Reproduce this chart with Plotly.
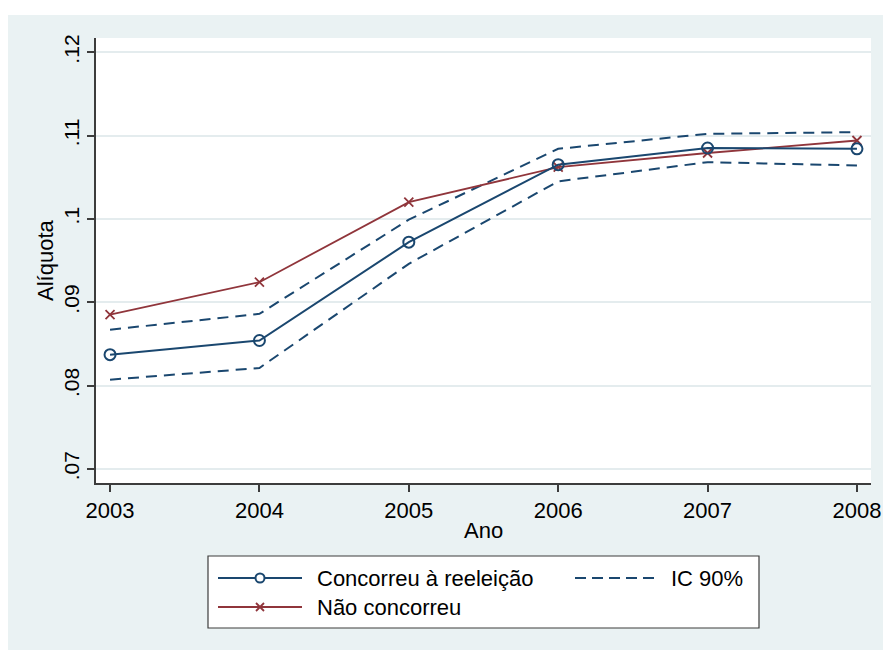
import plotly.graph_objects as go

# Alíquota média por ano: municípios cujo prefeito concorreu à reeleição vs. não concorreu
anos = [2003, 2004, 2005, 2006, 2007, 2008]
concorreu = [0.0837, 0.0854, 0.0972, 0.1065, 0.1085, 0.1084]
nao_concorreu = [0.0885, 0.0924, 0.1020, 0.1062, 0.1079, 0.1094]
ic_superior = [0.0867, 0.0886, 0.0999, 0.1084, 0.1102, 0.1104]
ic_inferior = [0.0807, 0.0821, 0.0946, 0.1045, 0.1068, 0.1064]

y_ticks = [0.07, 0.08, 0.09, 0.10, 0.11, 0.12]
y_tick_labels = [".07", ".08", ".09", ".1", ".11", ".12"]

NAVY = "#1A476F"
MAROON = "#90353B"
BG = "#EAF2F3"
GRID = "#E4ECEE"
AXIS = "#3C3C3C"
FONT = "Arial, Liberation Sans, Helvetica, sans-serif"

W, H = 883, 650
# plot area in pixels
PL, PR, PT, PB = 96, 871, 38, 483


def px(x):
    return (x - PL) / (PR - PL)


def py(y):
    return (PB - y) / (PB - PT)


fig = go.Figure()

fig.add_trace(go.Scatter(
    x=anos, y=ic_superior, mode="lines",
    line=dict(color=NAVY, width=2, dash="11px,7px"),
    showlegend=False, hoverinfo="skip"))
fig.add_trace(go.Scatter(
    x=anos, y=ic_inferior, mode="lines",
    line=dict(color=NAVY, width=2, dash="11px,7px"),
    showlegend=False, hoverinfo="skip"))
fig.add_trace(go.Scatter(
    x=anos, y=nao_concorreu, mode="lines+markers",
    line=dict(color=MAROON, width=1.8),
    marker=dict(symbol="x-thin", size=9, line=dict(color=MAROON, width=1.8)),
    showlegend=False))
fig.add_trace(go.Scatter(
    x=anos, y=concorreu, mode="lines+markers",
    line=dict(color=NAVY, width=2),
    marker=dict(symbol="circle-open", size=11, color=NAVY, line=dict(color=NAVY, width=2)),
    showlegend=False))

shapes = []
# white strips at top and left edge of the page
shapes.append(dict(type="rect", xref="paper", yref="paper", layer="below",
                   x0=px(0), x1=px(W), y0=py(15), y1=py(0),
                   fillcolor="white", line=dict(width=0)))
shapes.append(dict(type="rect", xref="paper", yref="paper", layer="below",
                   x0=px(0), x1=px(8), y0=py(H), y1=py(0),
                   fillcolor="white", line=dict(width=0)))

# legend box
LX0, LX1, LY0, LY1 = 208, 759, 556, 628
shapes.append(dict(type="rect", xref="paper", yref="paper",
                   x0=px(LX0), x1=px(LX1), y0=py(LY1), y1=py(LY0),
                   fillcolor="white", line=dict(color=AXIS, width=1.2)))
ROW1, ROW2 = 578, 607
# Concorreu à reeleição
shapes.append(dict(type="line", xref="paper", yref="paper",
                   x0=px(218), x1=px(302), y0=py(ROW1), y1=py(ROW1),
                   line=dict(color=NAVY, width=2)))
shapes.append(dict(type="circle", xref="paper", yref="paper",
                   xsizemode="pixel", ysizemode="pixel",
                   xanchor=px(260), yanchor=py(ROW1),
                   x0=-4.5, x1=4.5, y0=-4.5, y1=4.5,
                   fillcolor="white", line=dict(color=NAVY, width=2)))
# Não concorreu
shapes.append(dict(type="line", xref="paper", yref="paper",
                   x0=px(218), x1=px(302), y0=py(ROW2), y1=py(ROW2),
                   line=dict(color=MAROON, width=1.8)))
shapes.append(dict(type="path", xref="paper", yref="paper",
                   xsizemode="pixel", ysizemode="pixel",
                   xanchor=px(260), yanchor=py(ROW2),
                   path="M -4,-4 L 4,4 M -4,4 L 4,-4",
                   line=dict(color=MAROON, width=1.8)))
# IC 90%
shapes.append(dict(type="line", xref="paper", yref="paper",
                   x0=px(575), x1=px(659), y0=py(ROW1), y1=py(ROW1),
                   line=dict(color=NAVY, width=2, dash="11px,6px")))

TXT = dict(family=FONT, size=22, color="black")
annotations = [
    dict(text="Concorreu à reeleição", x=px(315), y=py(ROW1), xref="paper", yref="paper",
         xanchor="left", yanchor="middle", showarrow=False, font=TXT),
    dict(text="Não concorreu", x=px(315), y=py(ROW2), xref="paper", yref="paper",
         xanchor="left", yanchor="middle", showarrow=False, font=TXT),
    dict(text="IC 90%", x=px(669), y=py(ROW1), xref="paper", yref="paper",
         xanchor="left", yanchor="middle", showarrow=False, font=TXT),
    dict(text="Ano", x=px(483), y=py(530), xref="paper", yref="paper",
         xanchor="center", yanchor="middle", showarrow=False, font=TXT),
    dict(text="Alíquota", x=px(45), y=py(261), xref="paper", yref="paper",
         xanchor="center", yanchor="middle", showarrow=False, textangle=-90, font=TXT),
]

fig.update_layout(
    width=W, height=H, autosize=False,
    margin=dict(l=PL, r=W - PR, t=PT, b=H - PB, pad=0),
    paper_bgcolor=BG,
    plot_bgcolor="white",
    showlegend=False,
    shapes=shapes,
    annotations=annotations,
    font=dict(family=FONT, size=21, color="black"),
)

fig.update_xaxes(
    automargin=False,
    range=[2002.906, 2008.094],
    tickvals=anos, ticktext=[str(a) for a in anos],
    showgrid=False, zeroline=False,
    showline=True, linecolor=AXIS, linewidth=1.5,
    ticks="outside", ticklen=7, tickwidth=1.5, tickcolor=AXIS,
    tickfont=dict(family=FONT, size=22, color="black"),
)
fig.update_yaxes(
    automargin=False,
    range=[0.0683, 0.1217],
    tickvals=y_ticks, ticktext=y_tick_labels, tickangle=-90,
    showgrid=True, gridcolor=GRID, gridwidth=1.5, zeroline=False,
    showline=True, linecolor=AXIS, linewidth=1.5,
    ticks="outside", ticklen=7, tickwidth=1.5, tickcolor=AXIS,
    tickfont=dict(family=FONT, size=21, color="black"),
)

fig.write_html("out.html")
